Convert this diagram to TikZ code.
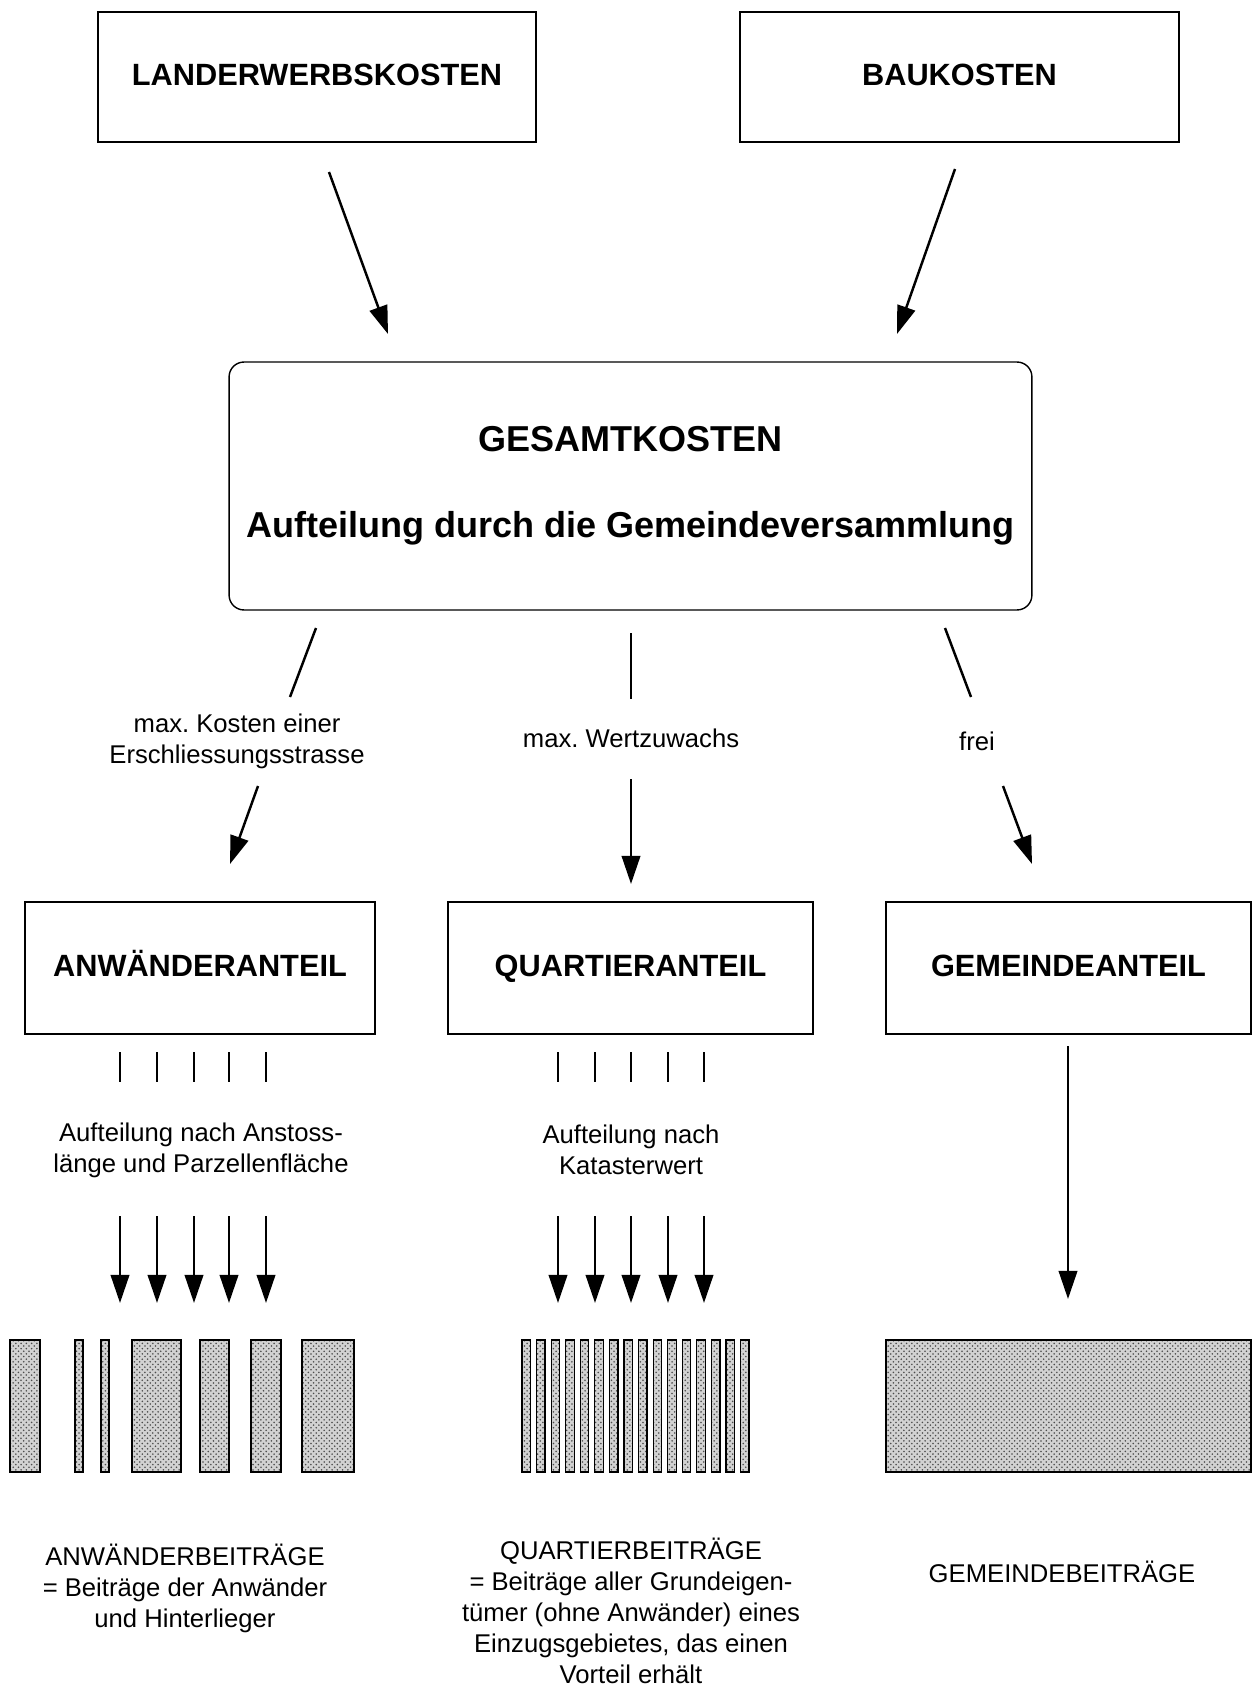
\documentclass[tikz,border=0pt]{standalone}
\usepackage{fontspec}
\setmainfont{Liberation Sans}
\usetikzlibrary{arrows.meta, patterns}
\frenchspacing

\begin{document}
\begin{tikzpicture}[x=0.02cm, y=-0.02cm,
    box/.style={draw, line width=0.8pt, minimum height=2.6cm, text height=12.6pt, text depth=2.6pt,
                font=\fontsize{17.5}{21}\selectfont\bfseries},
    arrow/.style={-{Triangle[length=16pt,width=10.5pt]}, line width=1.4pt},
    stub/.style={line width=1.4pt},
    note/.style={align=center, font=\fontsize{14.6}{17.6}\selectfont},
    bar/.style={draw, line width=0.7pt, preaction={fill=gray!35}, pattern=crosshatch dots, pattern color=black!70}
  ]
    \useasboundingbox (0,0) rectangle (1253,1686);

    % Kosten oben
    \node[box, minimum width=8.76cm] (land) at (317,77) {LANDERWERBSKOSTEN};
    \node[box, minimum width=8.78cm] (bau) at (959.5,77) {BAUKOSTEN};
    \node[draw, line width=0.8pt, rounded corners=8.5pt, minimum width=16.06cm, minimum height=4.96cm,
          align=center, font=\fontsize{20.5}{49}\selectfont\bfseries] (gesamt) at (630.5,486)
          {GESAMTKOSTEN\\Aufteilung durch die Gemeindeversammlung};

    \coordinate (land-a) at (329,172);  \coordinate (land-b) at (388,334);
    \coordinate (bau-a) at (955,169);   \coordinate (bau-b) at (897,334);
    \draw[arrow] (land-a) -- (land-b);
    \draw[arrow] (bau-a) -- (bau-b);

    % Anteile
    \node[box, minimum width=7.0cm, minimum height=2.64cm] (anw) at (200,968) {ANWÄNDERANTEIL};
    \node[box, minimum width=7.3cm, minimum height=2.64cm] (quart) at (630.5,968) {QUARTIERANTEIL};
    \node[box, minimum width=7.3cm, minimum height=2.64cm] (gem) at (1068.5,968) {GEMEINDEANTEIL};

    \node[note] (maxkost) at (237,741) {max. Kosten einer\\Erschliessungsstrasse};
    \node[note] (maxwert) at (631,738) {max. Wertzuwachs};
    \node[note] (frei) at (977,741) {frei};

    \coordinate (l1) at (316,628);  \coordinate (l2) at (290,697);
    \coordinate (l3) at (258,786);  \coordinate (l4) at (230,864);
    \coordinate (m1) at (631,633);  \coordinate (m2) at (631,699);
    \coordinate (m3) at (631,779);  \coordinate (m4) at (631,884);
    \coordinate (r1) at (945,628);  \coordinate (r2) at (971,697);
    \coordinate (r3) at (1003,786); \coordinate (r4) at (1032,864);
    \draw[stub] (l1) -- (l2);
    \draw[arrow] (l3) -- (l4);
    \draw[stub] (m1) -- (m2);
    \draw[arrow] (m3) -- (m4);
    \draw[stub] (r1) -- (r2);
    \draw[arrow] (r3) -- (r4);

    % Aufteilung
    \node[note] (anwauf) at (201,1150) {Aufteilung nach Anstoss-\\länge und Parzellenfläche};
    \node[note] (quartauf) at (631,1150) {Aufteilung nach\\Katasterwert};

    \foreach \x in {120,157,194,229,266} {
      \draw[stub] (\x,1052) -- (\x,1082);
      \draw[arrow] (\x,1216) -- (\x,1303);
    }
    \foreach \x in {558,595,631,668,704} {
      \draw[stub] (\x,1052) -- (\x,1082);
      \draw[arrow] (\x,1216) -- (\x,1303);
    }
    \coordinate (gem-a) at (1068,1046); \coordinate (gem-b) at (1068,1299);
    \draw[arrow] (gem-a) -- (gem-b);

    % Parzellen
    \foreach \xa/\xb in {10/40,75/83,101/109,132/181,200/229,251/281,302/354}
      \draw[bar] (\xa,1340) rectangle (\xb,1472);
    \foreach \i in {0,...,15}
      \draw[bar] ({522+14.57*\i},1340) rectangle ({530.5+14.57*\i},1472);
    \draw[bar] (886,1340) rectangle (1251,1472);

    % Beitraege
    \node[note] (anwbei) at (185,1588) {ANWÄNDERBEITRÄGE\\= Beiträge der Anwänder\\und Hinterlieger};
    \node[note] (quartbei) at (631,1611) {QUARTIERBEITRÄGE\\= Beiträge aller Grundeigen-\\tümer (ohne Anwänder) eines\\Einzugsgebietes, das einen\\Vorteil erhält};
    \node[note] (gembei) at (1062,1572) {GEMEINDEBEITRÄGE};
\end{tikzpicture}
\end{document}
